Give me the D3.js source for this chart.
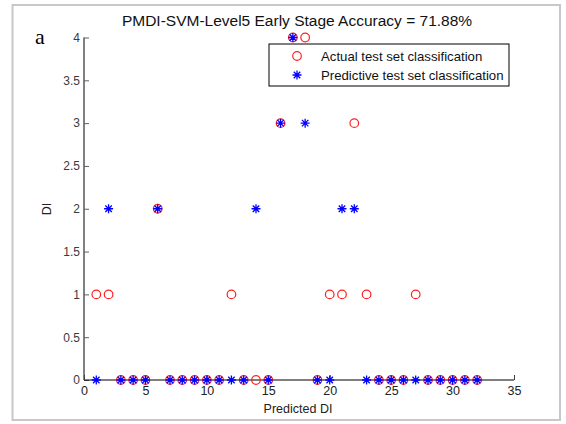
<!DOCTYPE html>
<html>
<head>
<meta charset="utf-8">
<script src="https://cdn.jsdelivr.net/npm/d3@7"></script>
<style>
  body { margin: 0; background: #fff; }
  svg text { font-family: Arial, "Liberation Sans", sans-serif; }
</style>
</head>
<body>
<div id="chart"></div>
<script>
// test samples 1..32
const sampleIdx = d3.range(1, 33);
const actualDI = [1,1,0,0,0,2,0,0,0,0,0,1,0,0,0,3,4,4,0,1,1,3,1,0,0,0,1,0,0,0,0,0];
const predictedDI = [0,2,0,0,0,2,0,0,0,0,0,0,0,2,0,3,4,3,0,0,2,2,0,0,0,0,0,0,0,0,0,0];
const xTicks = [0, 5, 10, 15, 20, 25, 30, 35];
const yTicks = [0, 0.5, 1, 1.5, 2, 2.5, 3, 3.5, 4];
const legendLabels = ["Actual test set classification", "Predictive test set classification"];

const W = 566, H = 424;
const svg = d3.select("#chart").append("svg").attr("width", W).attr("height", H);

// outer frame
svg.append("rect").attr("x", 12.5).attr("y", 5).attr("width", 547.5).attr("height", 415)
  .attr("fill", "#fff").attr("stroke", "#c8c8c8").attr("stroke-width", 2);

const x = d3.scaleLinear().domain([0, 35]).range([84, 514]);
const y = d3.scaleLinear().domain([0, 4]).range([380, 37.5]);

// left axis (grey)
const ya = svg.append("g").attr("transform", "translate(84,0)")
  .call(d3.axisRight(y).tickValues(yTicks).tickSize(5).tickFormat(d3.format("")));
ya.select(".domain").attr("stroke", "#808080").attr("stroke-width", 2).attr("d", `M0,${y(4)}V${y(0)}`);
ya.selectAll(".tick line").attr("stroke", "#606060");
ya.selectAll(".tick text").attr("x", -4).attr("text-anchor", "end")
  .attr("fill", "#3a3a3a").style("font-size", "12px");

// bottom axis (black)
const xa = svg.append("g").attr("transform", `translate(0,${y(0)})`)
  .call(d3.axisTop(x).tickValues(xTicks).tickSize(5));
xa.select(".domain").attr("stroke", "#000").attr("stroke-width", 1.2).attr("d", `M${x(0)},0H${x(35)}`);
xa.selectAll(".tick line").attr("stroke", "#404040");
xa.selectAll(".tick text").attr("y", 15).attr("dy", "0").attr("fill", "#222").style("font-size", "12.5px");

// markers
const pts = sampleIdx.map((s, i) => ({ s, a: actualDI[i], p: predictedDI[i] }));

function star(g, cx, cy, r) {
  const d = r * 0.72;
  g.append("path")
    .attr("d", `M${cx - r},${cy}H${cx + r}M${cx},${cy - r}V${cy + r}M${cx - d},${cy - d}L${cx + d},${cy + d}M${cx - d},${cy + d}L${cx + d},${cy - d}`)
    .attr("stroke", "#0000ff").attr("stroke-width", 1.3).attr("fill", "none");
}

const mk = svg.append("g");
pts.forEach(d => {
  mk.append("circle").attr("cx", x(d.s)).attr("cy", y(d.a)).attr("r", 4.3)
    .attr("fill", "none").attr("stroke", "#ff2020").attr("stroke-width", 1.2);
});
pts.forEach(d => star(mk, x(d.s), y(d.p), 4.5));

// legend
const lg = svg.append("g");
lg.append("rect").attr("x", 269).attr("y", 44).attr("width", 240).attr("height", 42)
  .attr("fill", "#fff").attr("stroke", "#000").attr("stroke-width", 1);
lg.append("circle").attr("cx", 297).attr("cy", 56).attr("r", 4.3)
  .attr("fill", "none").attr("stroke", "#ff2020").attr("stroke-width", 1.2);
star(lg, 297, 75, 4.5);
legendLabels.forEach((t, i) => {
  lg.append("text").attr("x", 321).attr("y", 61 + i * 19).text(t)
    .style("font-size", "13.2px").attr("fill", "#111");
});

// title & labels
svg.append("text").attr("x", 297).attr("y", 26).attr("text-anchor", "middle")
  .style("font-size", "15.5px").attr("fill", "#111")
  .text("PMDI-SVM-Level5 Early Stage Accuracy = 71.88%");
svg.append("text").attr("x", 298).attr("y", 413).attr("text-anchor", "middle")
  .style("font-size", "12.5px").attr("fill", "#222").text("Predicted DI");
svg.append("text").attr("transform", "translate(51,209) rotate(-90)").attr("text-anchor", "middle")
  .style("font-size", "12.5px").attr("fill", "#222").text("DI");
svg.append("text").attr("x", 35).attr("y", 44)
  .style("font-family", "'Times New Roman', 'Liberation Serif', serif").style("font-size", "22px")
  .attr("fill", "#000").text("a");
</script>
</body>
</html>
